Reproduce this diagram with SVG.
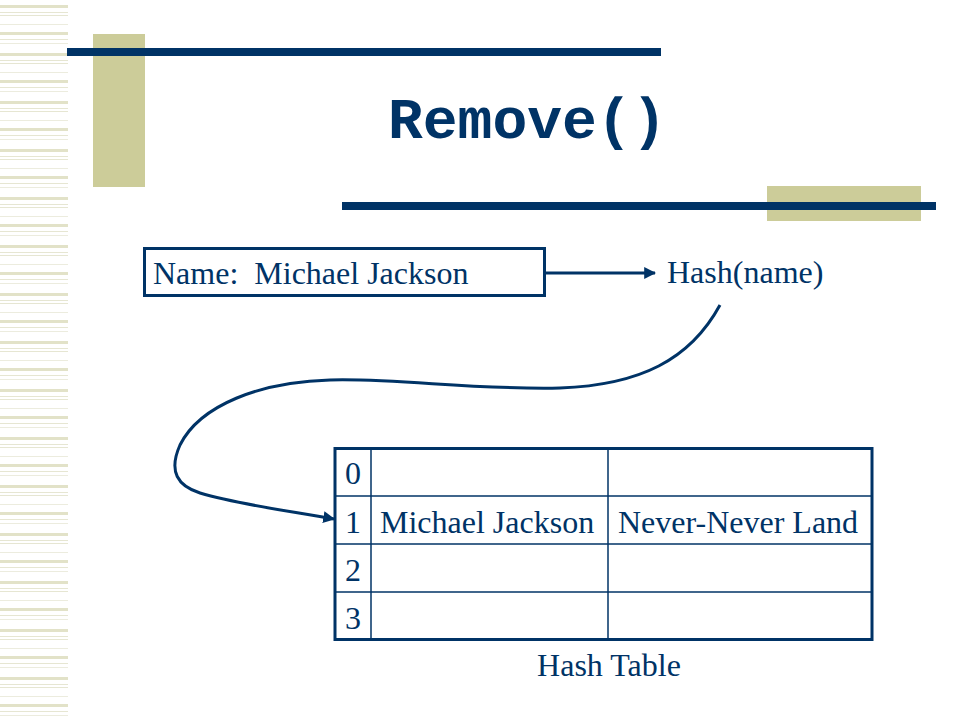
<svg xmlns="http://www.w3.org/2000/svg" width="960" height="720" viewBox="0 0 960 720">
<defs>
<style>
.ser{font-family:"Liberation Serif","Times New Roman",serif;font-size:32px;fill:#003366}
.title{font-family:"Liberation Mono","Courier New",monospace;font-size:58px;font-weight:bold;fill:#003366}
.navy{fill:#003366}
.khaki{fill:#CCCC99}
.conn{fill:none;stroke:#003366;stroke-width:3}
.thin{stroke:#003366;stroke-width:1.5}
</style>
<pattern id="stripes" x="0" y="0" width="68" height="48" patternUnits="userSpaceOnUse">
<rect x="0" y="5" width="68" height="3" fill="#E2E2C8"/>
<rect x="0" y="12" width="68" height="1" fill="#E6E6D2"/>
<rect x="0" y="15" width="68" height="1" fill="#E6E6D2"/>
<rect x="0" y="24" width="68" height="1" fill="#ECECDE"/>
<rect x="0" y="32" width="68" height="3" fill="#E2E2C8"/>
<rect x="0" y="39" width="68" height="1" fill="#E6E6D2"/>
<rect x="0" y="43" width="68" height="1" fill="#ECECDE"/>
</pattern>
<marker id="arr" viewBox="0 0 10 10" refX="9" refY="5" markerWidth="4" markerHeight="4" orient="auto" markerUnits="strokeWidth">
<path d="M0 0 L10 5 L0 10 z" fill="#003366"/>
</marker>
</defs>
<rect width="960" height="720" fill="#ffffff"/>
<g id="background">
<rect x="0" y="0" width="68" height="720" fill="url(#stripes)"/>
<rect class="khaki" x="93" y="34" width="52" height="153"/>
<rect class="navy" x="67" y="48" width="594" height="8"/>
<rect class="khaki" x="767" y="186" width="154" height="35"/>
<rect class="navy" x="342" y="202" width="594" height="8"/>
</g>
<g id="title">
<text class="title" x="388" y="138">Remove()</text>
</g>
<g id="name-box">
<rect x="144.5" y="248.5" width="400" height="47" fill="none" stroke="#003366" stroke-width="3"/>
<text class="ser" x="153" y="284" xml:space="preserve">Name:  Michael Jackson</text>
</g>
<g id="hash-func">
<text class="ser" x="667" y="283">Hash(name)</text>
</g>
<g id="hash-table">
<line class="thin" x1="335" y1="496" x2="872" y2="496"/>
<line class="thin" x1="335" y1="544" x2="872" y2="544"/>
<line class="thin" x1="335" y1="592" x2="872" y2="592"/>
<line class="thin" x1="371" y1="448" x2="371" y2="640"/>
<line class="thin" x1="608" y1="448" x2="608" y2="640"/>
<rect x="335" y="448.5" width="537" height="191" fill="none" stroke="#003366" stroke-width="3"/>
<text class="ser" x="345" y="484">0</text>
<text class="ser" x="345" y="533">1</text>
<text class="ser" x="345" y="581">2</text>
<text class="ser" x="345" y="629">3</text>
<text class="ser" x="380" y="533">Michael Jackson</text>
<text class="ser" x="618" y="533">Never-Never Land</text>
<text class="ser" x="609" y="676" text-anchor="middle">Hash Table</text>
</g>
<g id="connectors">
<line class="conn" x1="546" y1="273" x2="655" y2="273" marker-end="url(#arr)"/>
<path class="conn" d="M720 305 C690 360 640 385 560 388 C470 390 400 378 330 380 C260 382 200 405 180 445 C168 472 178 486 200 493 C240 505 290 511 334 519" marker-end="url(#arr)"/>
</g>
</svg>
